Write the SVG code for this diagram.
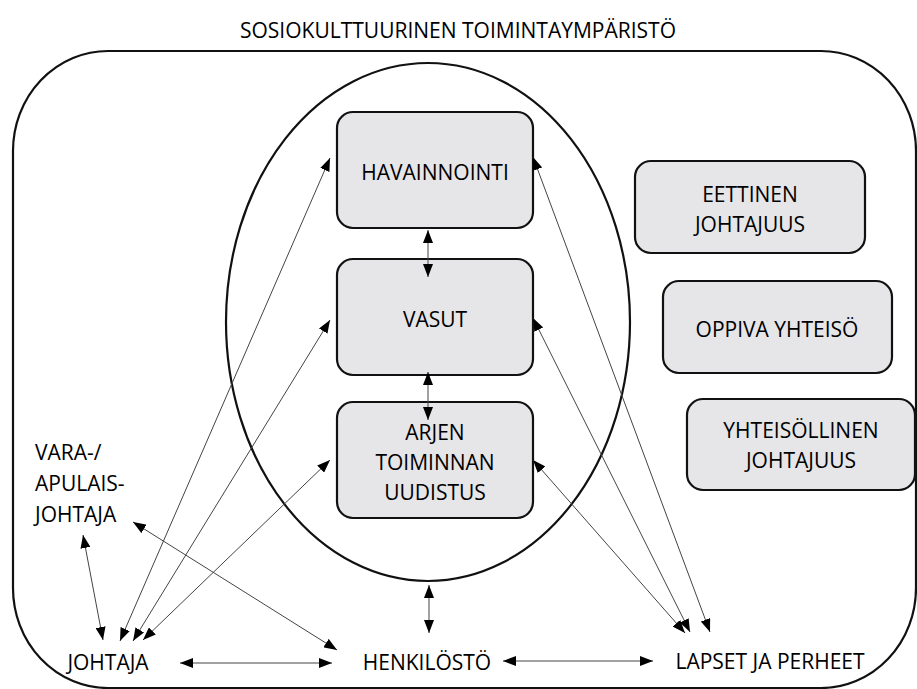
<svg xmlns="http://www.w3.org/2000/svg" width="917" height="689" viewBox="0 0 917 689">
<style>
text{font-family:"Open Sans","Liberation Sans",sans-serif;font-size:21px;fill:#000;}
.c{text-anchor:middle;}
.box{fill:#e6e5e7;stroke:#111;stroke-width:2.2;}
.frame{fill:none;stroke:#111;stroke-width:2.2;}
.ln{stroke:#444;stroke-width:1;fill:none;marker-start:url(#ah);marker-end:url(#ah);}
</style>
<defs>
<marker id="ah" viewBox="0 0 13 10" refX="13" refY="5" markerWidth="13" markerHeight="10" markerUnits="userSpaceOnUse" orient="auto-start-reverse">
<path d="M0,0 L13,5 L0,10 z" fill="#000"/>
</marker>
</defs>
<rect width="917" height="689" fill="#fff"/>
<text class="c" x="458" y="38">SOSIOKULTTUURINEN TOIMINTAYMPÄRISTÖ</text>
<g id="frame">
<rect class="frame" x="13" y="51" width="903" height="637" rx="95" ry="100"/>
</g>
<g id="ellipse">
<ellipse class="frame" cx="428" cy="322" rx="202" ry="259"/>
</g>
<g id="havainnointi">
<rect class="box" x="337" y="112" width="196" height="116" rx="16"/>
<text class="c" x="435" y="180">HAVAINNOINTI</text>
</g>
<g id="vasut">
<rect class="box" x="337" y="259" width="196" height="116" rx="16"/>
<text class="c" x="435" y="327">VASUT</text>
</g>
<g id="arjen">
<rect class="box" x="337" y="402" width="196" height="116" rx="16"/>
<text class="c" x="435" y="440">ARJEN</text>
<text class="c" x="435" y="470">TOIMINNAN</text>
<text class="c" x="435" y="500">UUDISTUS</text>
</g>
<g id="eettinen">
<rect class="box" x="635" y="161" width="230" height="92" rx="16"/>
<text class="c" x="750" y="202">EETTINEN</text>
<text class="c" x="750" y="232">JOHTAJUUS</text>
</g>
<g id="oppiva">
<rect class="box" x="663" y="281" width="229" height="92" rx="16"/>
<text class="c" x="777" y="337">OPPIVA YHTEISÖ</text>
</g>
<g id="yhteisollinen">
<rect class="box" x="687" y="399" width="228" height="91" rx="16"/>
<text class="c" x="801" y="438">YHTEISÖLLINEN</text>
<text class="c" x="801" y="468">JOHTAJUUS</text>
</g>
<g id="vara">
<text x="35" y="460">VARA-/</text>
<text x="35" y="491">APULAIS-</text>
<text x="35" y="522">JOHTAJA</text>
</g>
<g id="johtaja">
<text class="c" x="108" y="670">JOHTAJA</text>
</g>
<g id="henkilosto">
<text class="c" x="427" y="670">HENKILÖSTÖ</text>
</g>
<g id="lapset">
<text class="c" x="770" y="669">LAPSET JA PERHEET</text>
</g>
<g id="connectors">
<line class="ln" x1="428" y1="230" x2="428" y2="277"/>
<line class="ln" x1="428" y1="372" x2="428" y2="420"/>
<line class="ln" x1="429" y1="585" x2="429" y2="633"/>
<line class="ln" x1="180" y1="663" x2="332" y2="663"/>
<line class="ln" x1="503" y1="661" x2="653" y2="661"/>
<line class="ln" x1="83" y1="535" x2="103" y2="640"/>
<line class="ln" x1="133" y1="522" x2="337" y2="650"/>
<line class="ln" x1="120" y1="641" x2="330" y2="158"/>
<line class="ln" x1="133" y1="641" x2="330" y2="320"/>
<line class="ln" x1="143" y1="640" x2="330" y2="460"/>
<line class="ln" x1="533" y1="157" x2="710" y2="632"/>
<line class="ln" x1="533" y1="318" x2="690" y2="632"/>
<line class="ln" x1="533" y1="460" x2="685" y2="633"/>
</g>
</svg>
